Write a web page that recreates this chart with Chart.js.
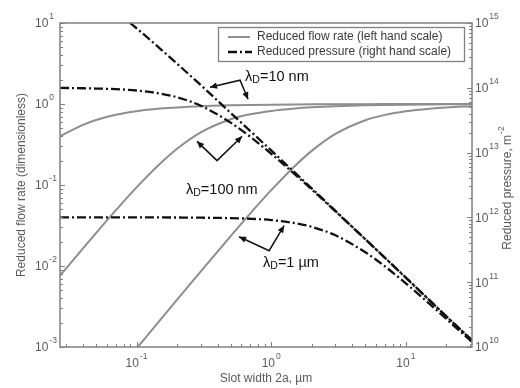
<!DOCTYPE html>
<html>
<head>
<meta charset="utf-8">
<script src="https://cdn.jsdelivr.net/npm/chart.js@4.4.1/dist/chart.umd.min.js"></script>
<style>
  html, body { margin: 0; padding: 0; background: #fff; }
</style>
</head>
<body>
<canvas id="chart" width="520" height="388"></canvas>
<script>
// slot width 2a (µm) and the curves
const slotWidth = [0.027, 0.04, 0.05, 0.07, 0.1, 0.15, 0.2, 0.3, 0.5, 0.7, 1, 1.5, 2, 3, 5, 7, 10, 15, 20, 31];

// reduced flow rate (left hand scale)
const flow10nm  = [0.40, 0.552, 0.635, 0.737, 0.816, 0.877, 0.908, 0.939, 0.963, 0.974, 0.982, 0.988, 0.991, 0.9939, 0.9963, 0.9974, 0.9982, 0.9988, 0.9991, 0.9994];
const flow100nm = [0.0076, 0.0165, 0.0255, 0.0485, 0.0935, 0.184, 0.280, 0.446, 0.647, 0.746, 0.822, 0.881, 0.911, 0.9407, 0.9644, 0.9746, 0.9822, 0.9881, 0.9911, 0.9943];
const flow1um   = [0.0000703, 0.000154, 0.000241, 0.000472, 0.000962, 0.00216, 0.00384, 0.00859, 0.0234, 0.0447, 0.0863, 0.172, 0.264, 0.427, 0.631, 0.7345, 0.814, 0.876, 0.907, 0.940];

// reduced pressure, m^-2 (right hand scale)
const press10nm  = [5.5e15, 3.5e15, 2.55e15, 1.5e15, 8.3e14, 4.0e14, 2.35e14, 1.1e14, 4.1e13, 2.15e13, 1.08e13, 4.9e12, 2.8e12, 1.26e12, 4.6e11, 2.37e11, 1.17e11, 5.25e10, 2.97e10, 1.28e10];
const press100nm = [1.0e14, 9.84e13, 9.74e13, 9.53e13, 9.09e13, 8.16e13, 7.15e13, 5.29e13, 2.9e13, 1.75e13, 9.6e12, 4.62e12, 2.7e12, 1.24e12, 4.61e11, 2.38e11, 1.18e11, 5.26e10, 2.97e10, 1.26e10];
const press1um   = [1.0e12, 1.0e12, 1.0e12, 1.0e12, 1.0e12, 9.98e11, 9.96e11, 9.9e11, 9.74e11, 9.53e11, 9.1e11, 8.16e11, 7.15e11, 5.29e11, 2.9e11, 1.75e11, 9.6e10, 4.62e10, 2.7e10, 1.2e10];

// tick label exponents (10^n)
const xLabelExps = [-1, 0, 1];
const leftLabelExps = [-3, -2, -1, 0, 1];
const rightLabelExps = [10, 11, 12, 13, 14, 15];

// callouts: label position and arrow path [head, corner, head] in (µm, left scale)
const calloutLabels = ['10 nm', '100 nm', '1 \u00b5m'];
const calloutText = [[0.64, 2.14], [0.233, 0.087], [0.87, 0.011]];
const calloutPaths = [
  [[0.351, 1.61], [0.587, 1.97], [0.673, 1.145]],
  [[0.281, 0.346], [0.396, 0.200], [0.608, 0.399]],
  [[0.577, 0.0230], [0.965, 0.01545], [1.247, 0.0315]]
];

const GREY = '#8e8e8e';
const AXIS = '#808080';
const TXT = '#5a5a5a';
const FONT = "'Liberation Sans', Arial, sans-serif";
const DASHDOT = [9, 3, 2, 3];

function pts(ys) {
  return slotWidth.map((x, i) => ({ x, y: ys[i] }));
}

function logTicks(min, max) {
  const out = [];
  const e0 = Math.floor(Math.log10(min));
  const e1 = Math.ceil(Math.log10(max));
  for (let e = e0; e <= e1; e++) {
    for (let m = 1; m < 10; m++) {
      const v = m * Math.pow(10, e);
      if (v >= min * 0.999 && v <= max * 1.001) out.push({ v, major: m === 1 });
    }
  }
  return out;
}

function drawPow(ctx, exp, x, y, align) {
  ctx.font = `12px ${FONT}`;
  const wb = ctx.measureText('10').width;
  ctx.font = `8.5px ${FONT}`;
  const es = String(exp);
  const we = ctx.measureText(es).width;
  const x0 = align === 'center' ? x - (wb + we + 1) / 2 : x;
  ctx.fillStyle = TXT;
  ctx.textAlign = 'left';
  ctx.textBaseline = 'middle';
  ctx.font = `12px ${FONT}`;
  ctx.fillText('10', x0, y + 1);
  ctx.font = `8.5px ${FONT}`;
  ctx.fillText(es, x0 + wb + 1, y - 6);
}

function drawArrowHead(ctx, fx, fy, tx, ty) {
  const a = Math.atan2(ty - fy, tx - fx);
  const L = 7, W = 3.2;
  ctx.beginPath();
  ctx.moveTo(tx, ty);
  ctx.lineTo(tx - L * Math.cos(a) + W * Math.sin(a), ty - L * Math.sin(a) - W * Math.cos(a));
  ctx.lineTo(tx - L * Math.cos(a) - W * Math.sin(a), ty - L * Math.sin(a) + W * Math.cos(a));
  ctx.closePath();
  ctx.fill();
}

const decorations = {
  id: 'decorations',
  afterDraw(chart) {
    const { ctx, chartArea: ca, scales } = chart;
    const sx = scales.x, sy = scales.y, sy2 = scales.y2;
    ctx.save();

    // frame
    ctx.strokeStyle = AXIS;
    ctx.lineWidth = 1.5;
    ctx.strokeRect(ca.left, ca.top, ca.right - ca.left, ca.bottom - ca.top);

    // inward tick marks
    ctx.lineWidth = 1;
    ctx.beginPath();
    logTicks(sx.min, sx.max).forEach(t => {
      const p = Math.round(sx.getPixelForValue(t.v)) + 0.5;
      ctx.moveTo(p, ca.bottom);
      ctx.lineTo(p, ca.bottom - (t.major ? 5 : 3));
    });
    logTicks(sy.min, sy.max).forEach(t => {
      const p = Math.round(sy.getPixelForValue(t.v)) + 0.5;
      ctx.moveTo(ca.left, p);
      ctx.lineTo(ca.left + (t.major ? 5 : 3), p);
    });
    logTicks(sy2.min, sy2.max).forEach(t => {
      const p = Math.round(sy2.getPixelForValue(t.v)) + 0.5;
      ctx.moveTo(ca.right, p);
      ctx.lineTo(ca.right - (t.major ? 5 : 3), p);
    });
    ctx.stroke();

    // tick labels
    xLabelExps.forEach(e => drawPow(ctx, e, sx.getPixelForValue(Math.pow(10, e)), ca.bottom + 16, 'center'));
    leftLabelExps.forEach(e => drawPow(ctx, e, 35, sy.getPixelForValue(Math.pow(10, e)), 'left'));
    rightLabelExps.forEach(e => drawPow(ctx, e, ca.right + 3, sy2.getPixelForValue(Math.pow(10, e)), 'left'));

    // axis titles
    ctx.fillStyle = TXT;
    ctx.font = `12px ${FONT}`;
    ctx.textAlign = 'center';
    ctx.textBaseline = 'middle';
    ctx.fillText('Slot width 2a, \u00b5m', (ca.left + ca.right) / 2, 379);

    ctx.save();
    ctx.translate(22, (ca.top + ca.bottom) / 2);
    ctx.rotate(-Math.PI / 2);
    ctx.fillText('Reduced flow rate (dimensionless)', 0, 0);
    ctx.restore();

    ctx.save();
    ctx.translate(508, 188);
    ctx.rotate(-Math.PI / 2);
    const rt = 'Reduced pressure, m';
    const rw = ctx.measureText(rt).width;
    ctx.font = `8.5px ${FONT}`;
    const ew = ctx.measureText('-2').width;
    const rx0 = -(rw + ew + 1) / 2;
    ctx.font = `12px ${FONT}`;
    ctx.textAlign = 'left';
    ctx.fillText(rt, rx0, 0);
    ctx.font = `8.5px ${FONT}`;
    ctx.fillText('-2', rx0 + rw + 1, -6);
    ctx.restore();

    // legend
    const lx = ca.right - 254, ly = ca.top + 4;
    ctx.strokeStyle = AXIS;
    ctx.lineWidth = 1.3;
    ctx.strokeRect(lx + 0.5, ly + 0.5, 246, 34);
    ctx.lineWidth = 2;
    ctx.strokeStyle = GREY;
    ctx.beginPath();
    ctx.moveTo(lx + 10, ly + 10);
    ctx.lineTo(lx + 32, ly + 10);
    ctx.stroke();
    ctx.strokeStyle = '#111';
    ctx.lineWidth = 2.3;
    ctx.setLineDash(DASHDOT);
    ctx.beginPath();
    ctx.moveTo(lx + 10, ly + 25);
    ctx.lineTo(lx + 34, ly + 25);
    ctx.stroke();
    ctx.setLineDash([]);
    ctx.fillStyle = '#3a3a3a';
    ctx.font = `12px ${FONT}`;
    ctx.textAlign = 'left';
    ctx.textBaseline = 'middle';
    ctx.fillText('Reduced flow rate (left hand scale)', lx + 39, ly + 10);
    ctx.fillText('Reduced pressure (right hand scale)', lx + 39, ly + 25);

    // callouts
    ctx.strokeStyle = '#111';
    ctx.fillStyle = '#111';
    ctx.lineWidth = 1.5;
    calloutPaths.forEach((path, i) => {
      const p = path.map(([vx, vy]) => [sx.getPixelForValue(vx), sy.getPixelForValue(vy)]);
      ctx.beginPath();
      ctx.moveTo(p[0][0], p[0][1]);
      ctx.lineTo(p[1][0], p[1][1]);
      ctx.lineTo(p[2][0], p[2][1]);
      ctx.stroke();
      drawArrowHead(ctx, p[1][0], p[1][1], p[0][0], p[0][1]);
      drawArrowHead(ctx, p[1][0], p[1][1], p[2][0], p[2][1]);

      const tx = sx.getPixelForValue(calloutText[i][0]);
      const ty = sy.getPixelForValue(calloutText[i][1]);
      ctx.textBaseline = 'middle';
      ctx.font = `14.5px ${FONT}`;
      ctx.fillText('\u03bb', tx, ty);
      let cx = tx + ctx.measureText('\u03bb').width;
      ctx.font = `10.5px ${FONT}`;
      ctx.fillText('D', cx, ty + 3);
      cx += ctx.measureText('D').width;
      ctx.font = `14.5px ${FONT}`;
      ctx.fillText('=' + calloutLabels[i], cx, ty);
    });

    ctx.restore();
  }
};

const ctx = document.getElementById('chart').getContext('2d');

new Chart(ctx, {
  type: 'line',
  data: {
    datasets: [
      { label: 'flow 10 nm', data: pts(flow10nm), yAxisID: 'y', borderColor: GREY, borderWidth: 2, order: 2 },
      { label: 'flow 100 nm', data: pts(flow100nm), yAxisID: 'y', borderColor: GREY, borderWidth: 2, order: 2 },
      { label: 'flow 1 um', data: pts(flow1um), yAxisID: 'y', borderColor: GREY, borderWidth: 2, order: 2 },
      { label: 'pressure 10 nm', data: pts(press10nm), yAxisID: 'y2', borderColor: '#111', borderWidth: 2.3, borderDash: DASHDOT, order: 1 },
      { label: 'pressure 100 nm', data: pts(press100nm), yAxisID: 'y2', borderColor: '#111', borderWidth: 2.3, borderDash: DASHDOT, order: 1 },
      { label: 'pressure 1 um', data: pts(press1um), yAxisID: 'y2', borderColor: '#111', borderWidth: 2.3, borderDash: DASHDOT, order: 1 }
    ]
  },
  options: {
    responsive: false,
    animation: false,
    devicePixelRatio: 1,
    layout: { padding: { top: 23, left: 0, right: 0, bottom: 0 } },
    elements: {
      point: { radius: 0 },
      line: { cubicInterpolationMode: 'monotone', fill: false }
    },
    plugins: {
      legend: { display: false },
      tooltip: { enabled: false }
    },
    scales: {
      x: {
        type: 'logarithmic', min: 0.027, max: 31,
        grid: { display: false }, border: { display: false }, ticks: { display: false },
        afterFit: s => { s.height = 41; }
      },
      y: {
        type: 'logarithmic', position: 'left', min: 1e-3, max: 10,
        grid: { display: false }, border: { display: false }, ticks: { display: false },
        afterFit: s => { s.width = 60; }
      },
      y2: {
        type: 'logarithmic', position: 'right', min: 1e10, max: 1e15,
        grid: { display: false }, border: { display: false }, ticks: { display: false },
        afterFit: s => { s.width = 48; }
      }
    }
  },
  plugins: [decorations]
});
</script>
</body>
</html>
